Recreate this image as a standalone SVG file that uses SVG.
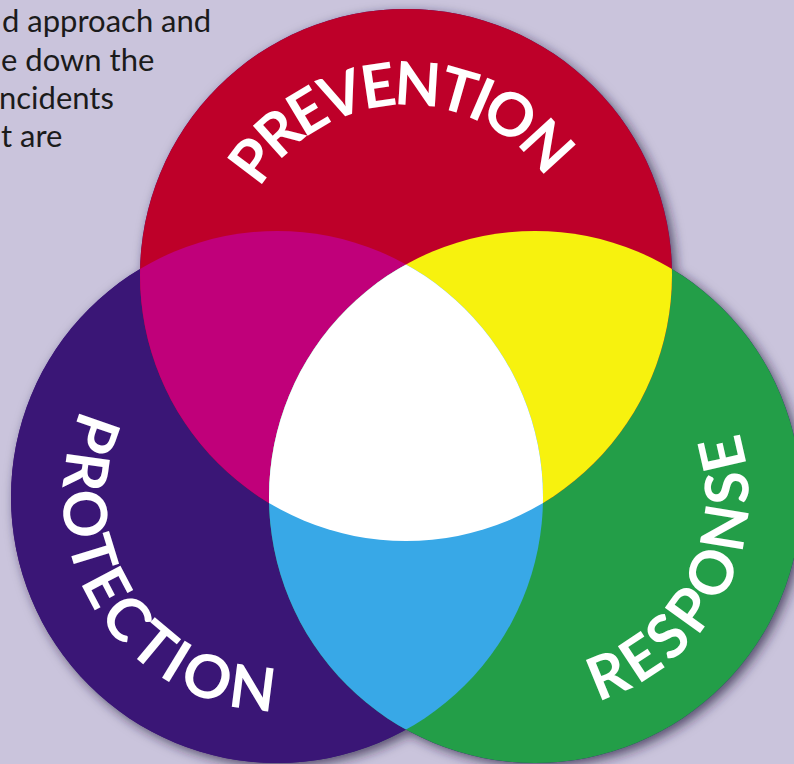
<svg xmlns="http://www.w3.org/2000/svg" width="794" height="764" viewBox="0 0 794 764">
<style>
  .body { font-family: Lato, "Liberation Sans", sans-serif; font-size: 31px; fill: #1b1b1b; }
  .lbl { font-family: Lato, "Liberation Sans", sans-serif; font-size: 60px; font-weight: 700; fill: #ffffff; }
</style>
<defs>
  <clipPath id="cRed"><circle cx="406" cy="275" r="266"/></clipPath>
  <clipPath id="cPur"><circle cx="277" cy="497" r="266"/></clipPath>
  <filter id="sh" x="-20%" y="-20%" width="140%" height="140%">
    <feDropShadow dx="4" dy="4" stdDeviation="6" flood-color="#231a3a" flood-opacity="0.7"/>
  </filter>
  <path id="arcPrev" d="M 236 275 A 170 170 0 0 1 576 275"/>
  <path id="arcProt" d="M 277 283 A 214 214 0 1 0 384 682.3"/>
  <path id="arcResp" d="M 444.6 690.9 A 214 214 0 0 0 657.7 321.7"/>
</defs>
<rect width="794" height="764" fill="#cac4dc"/>
<g id="intro-text" class="body">
  <text x="2" y="31.5">d approach and</text>
  <text x="1" y="70.5">e down the</text>
  <text x="-1" y="109">ncidents</text>
  <text x="1" y="147">t are</text>
</g>
<g id="shadow" filter="url(#sh)" fill="#3a1676">
  <circle cx="277" cy="497" r="266"/>
  <circle cx="535" cy="497" r="266"/>
  <circle cx="406" cy="275" r="266"/>
</g>
<g id="node-protection"><circle cx="277" cy="497" r="266" fill="#3a1676"/></g>
<g id="node-response"><circle cx="535" cy="497" r="266" fill="#239e48"/></g>
<g id="node-prevention"><circle cx="406" cy="275" r="266" fill="#be0029"/></g>
<g id="overlaps">
  <circle cx="277" cy="497" r="266" fill="#c0007a" clip-path="url(#cRed)"/>
  <circle cx="535" cy="497" r="266" fill="#f7f20e" clip-path="url(#cRed)"/>
  <circle cx="535" cy="497" r="266" fill="#38a8e7" clip-path="url(#cPur)"/>
  <g clip-path="url(#cRed)"><circle cx="535" cy="497" r="266" fill="#ffffff" clip-path="url(#cPur)"/></g>
</g>
<g id="labels" class="lbl">
  <text><textPath href="#arcPrev" startOffset="91" textLength="340" lengthAdjust="spacing">PREVENTION</textPath></text>
  <text><textPath href="#arcProt" startOffset="246" textLength="422" lengthAdjust="spacing">PROTECTION</textPath></text>
  <text><textPath href="#arcResp" startOffset="157" textLength="337" lengthAdjust="spacing">RESPONSE</textPath></text>
</g>
<g id="connectors"></g>
</svg>
